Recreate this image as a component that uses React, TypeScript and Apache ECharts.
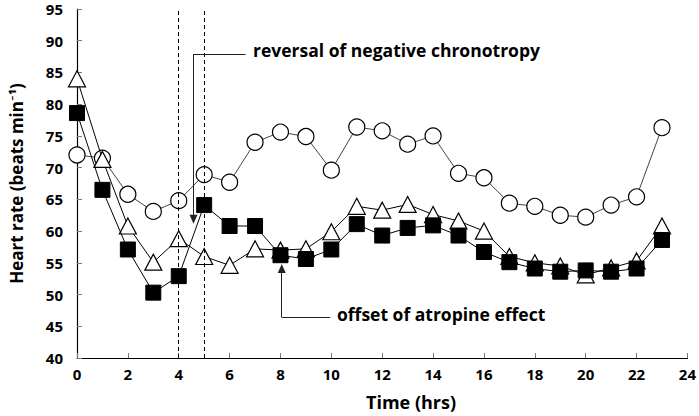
import React, { useEffect, useRef } from "react";
import * as echarts from "echarts";

const hours = [0, 1, 2, 3, 4, 5, 6, 7, 8, 9, 10, 11, 12, 13, 14, 15, 16, 17, 18, 19, 20, 21, 22, 23];
const circles = [72.0, 71.5, 65.8, 63.1, 64.8, 68.9, 67.7, 74.0, 75.6, 74.9, 69.6, 76.4, 75.8, 73.7, 75.0, 69.1, 68.4, 64.4, 63.9, 62.5, 62.2, 64.1, 65.4, 76.3];
const squares = [78.6, 66.5, 57.1, 50.3, 52.9, 64.1, 60.8, 60.8, 56.2, 55.6, 57.1, 61.1, 59.3, 60.5, 60.9, 59.3, 56.7, 55.1, 54.1, 53.6, 53.8, 53.6, 54.1, 58.6];
const triangles = [84.0, 71.3, 60.8, 55.1, 58.8, 56.0, 54.6, 57.2, 57.0, 57.2, 59.9, 63.9, 63.3, 64.2, 62.6, 61.6, 60.0, 56.0, 55.0, 54.5, 53.1, 54.2, 55.3, 60.8];
const dashedHours = [4, 5];
const xTicks = { min: 0, max: 24, interval: 2 };
const yTicks = { min: 40, max: 95, interval: 5 };
// annotation arrows in data coordinates: [hour, bpm]
const reversalArrow = { fromX: 6.63, atX: 4.58, y: 87.9, tipY: 61.85 };
const offsetArrow = { fromX: 9.96, atX: 8.05, y: 46.4, tipY: 54.1 };
const reversalText = "reversal of negative chronotropy";
const offsetText = "offset of atropine effect";

const FONT = "'Open Sans', Lato, sans-serif";

export default function App() {
  const ref = useRef<HTMLDivElement>(null);
  useEffect(() => {
    if (!ref.current) return;
    const chart = echarts.init(ref.current, undefined, { renderer: "svg" });
    const pair = (arr: number[]) => hours.map((h, i) => [h, arr[i]]);
    const arrowStyle = { color: "#222", width: 1, type: "solid" as const };
    chart.setOption({
      animation: false,
      grid: { left: 76, right: 11, top: 9, bottom: 58 },
      xAxis: {
        type: "value",
        min: xTicks.min,
        max: xTicks.max,
        interval: xTicks.interval,
        axisLine: { lineStyle: { color: "#000", width: 1.2 } },
        axisTick: { inside: true, length: 5, lineStyle: { color: "#777" } },
        splitLine: { show: false },
        axisLabel: { color: "#000", fontFamily: FONT, fontWeight: "bold", fontSize: 15, margin: 8 },
      },
      yAxis: {
        type: "value",
        min: yTicks.min,
        max: yTicks.max,
        interval: yTicks.interval,
        axisLine: { show: true, lineStyle: { color: "#000", width: 1.2 } },
        axisTick: { show: true, inside: true, length: 5, lineStyle: { color: "#777" } },
        splitLine: { show: false },
        axisLabel: { color: "#000", fontFamily: FONT, fontWeight: "bold", fontSize: 15, lineHeight: 15, margin: 14 },
        name: "Heart rate (beats min⁻¹)",
        nameLocation: "middle",
        nameGap: 52,
        nameTextStyle: { color: "#000", fontFamily: FONT, fontWeight: "bold", fontSize: 17 },
      },
      graphic: [
        {
          type: "text",
          left: 366,
          top: 393,
          style: { text: "Time (hrs)", fill: "#000", font: `bold 18px ${FONT}` },
        },
        {
          type: "text",
          left: 253,
          top: 41,
          style: { text: reversalText, fill: "#000", font: `bold 17.5px ${FONT}` },
        },
        {
          type: "text",
          left: 337,
          top: 305,
          style: { text: offsetText, fill: "#000", font: `bold 17.5px ${FONT}` },
        },
      ],
      series: [
        {
          type: "line",
          data: pair(circles),
          symbol: "circle",
          symbolSize: 16,
          itemStyle: { color: "#fff", borderColor: "#000", borderWidth: 1.2 },
          lineStyle: { color: "#444", width: 1 },
          z: 2,
          markLine: {
            silent: true,
            symbol: ["none", "none"],
            label: { show: false },
            lineStyle: { color: "#000", type: [4, 3], width: 1 },
            data: dashedHours.map((h) => ({ xAxis: h })),
          },
        },
        {
          type: "line",
          data: pair(triangles),
          symbol: "triangle",
          symbolSize: [17, 16],
          itemStyle: { color: "#fff", borderColor: "#000", borderWidth: 1.2 },
          lineStyle: { color: "#000", width: 1 },
          z: 3,
        },
        {
          type: "line",
          data: pair(squares),
          symbol: "rect",
          symbolSize: 15,
          itemStyle: { color: "#000", borderColor: "#000", borderWidth: 1 },
          lineStyle: { color: "#000", width: 1 },
          z: 4,
          markLine: {
            silent: true,
            label: { show: false },
            lineStyle: arrowStyle,
            symbolSize: [8, 9],
            data: [
              [
                { coord: [reversalArrow.fromX, reversalArrow.y], symbol: "none" },
                { coord: [reversalArrow.atX, reversalArrow.y], symbol: "none" },
              ],
              [
                { coord: [reversalArrow.atX, reversalArrow.y], symbol: "none" },
                { coord: [reversalArrow.atX, reversalArrow.tipY], symbol: "triangle" },
              ],
              [
                { coord: [offsetArrow.fromX, offsetArrow.y], symbol: "none" },
                { coord: [offsetArrow.atX, offsetArrow.y], symbol: "none" },
              ],
              [
                { coord: [offsetArrow.atX, offsetArrow.y], symbol: "none" },
                { coord: [offsetArrow.atX, offsetArrow.tipY], symbol: "triangle" },
              ],
            ],
          },
        },
      ],
    });
    return () => chart.dispose();
  }, []);
  return <div ref={ref} style={{ width: 699, height: 416, position: "absolute", left: 0, top: 0, background: "#fff" }} />;
}
